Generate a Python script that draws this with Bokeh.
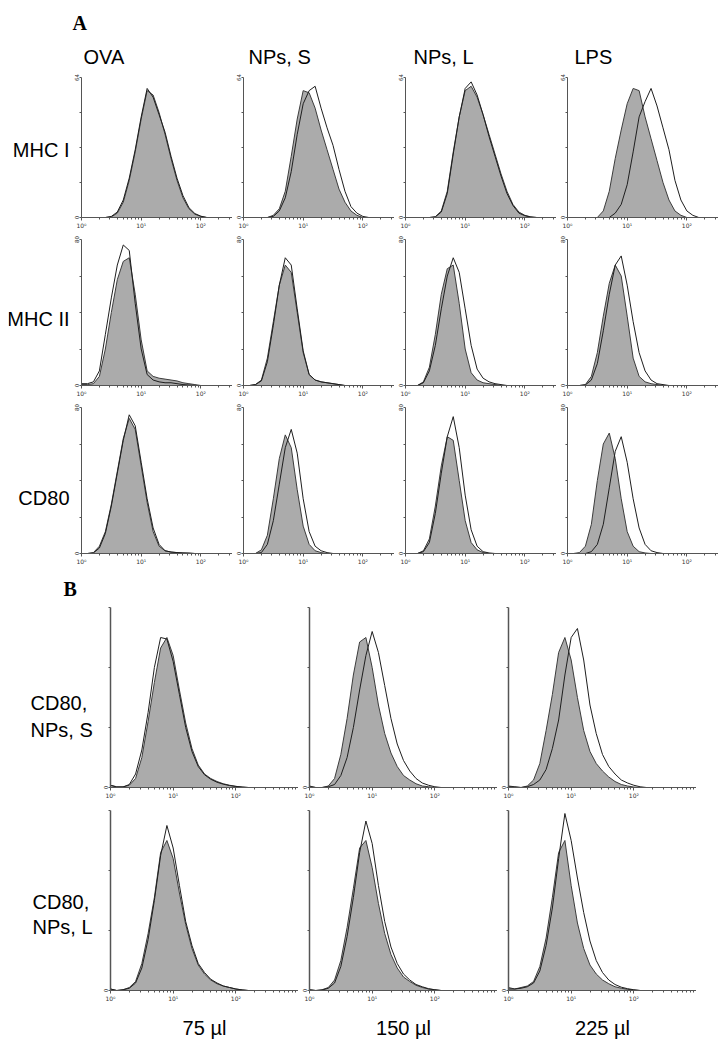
from bokeh.plotting import figure
from bokeh.layouts import column, row
from bokeh.models import Range1d, FixedTicker, Label, Title
from bokeh.embed import file_html
from bokeh.resources import INLINE

# ---------------- data ----------------
# histogram bin centres, in decades (log10 of fluorescence intensity)
BIN_LOG = [0.0, 0.1, 0.2, 0.3, 0.4, 0.5, 0.6, 0.7, 0.8, 0.9, 1.0, 1.1, 1.2,
           1.3, 1.4, 1.5, 1.6, 1.7, 1.8, 1.9, 2.0, 2.1, 2.2, 2.3, 2.4, 2.5]

col_titles_a = ["OVA", "NPs, S", "NPs, L", "LPS"]
row_titles_a = ["MHC I", "MHC II", "CD80"]
ymax_a = [64, 80, 80]
col_titles_b = ["75 µl", "150 µl", "225 µl"]
row_titles_b = [["CD80,", "NPs, S"], ["CD80,", "NPs, L"]]
x_tick_labels = {1: "10⁰", 10: "10¹", 100: "10²"}

# Panel A, MHC I (filled = grey histogram, open = outlined histogram)
mhc1_ova_filled = [0, 0, 0, 0, 0, 0.3, 2, 7, 17, 30, 45, 58, 56, 48, 38, 27, 17, 9, 4, 1.5, 0.5, 0]
mhc1_ova_open = [0, 0, 0, 0, 0, 0.5, 2.5, 8, 18, 31, 46, 59, 55, 47, 39, 28, 18, 10, 4.5, 1.8, 0.6, 0]
mhc1_nps_filled = [0, 0, 0, 0, 0, 1, 4, 12, 28, 45, 58, 57, 50, 40, 31, 22, 13, 7, 3, 1, 0]
mhc1_nps_open = [0, 0, 0, 0, 0, 0.5, 3, 9, 21, 38, 52, 58, 60, 50, 41, 33, 22, 12, 5, 2, 0.5, 0]
mhc1_npl_filled = [0, 0, 0, 0, 0, 0.3, 3, 12, 30, 46, 58, 60, 55, 47, 38, 29, 20, 12, 6, 2.5, 1, 0.3, 0]
mhc1_npl_open = [0, 0, 0, 0, 0, 0.3, 2.5, 11, 29, 46, 59, 62, 56, 47, 37, 28, 19, 11, 5.5, 2, 0.8, 0.2, 0]
mhc1_lps_filled = [0, 0, 0, 0, 0, 0, 3, 12, 27, 40, 52, 59, 58, 46, 36, 26, 16, 8, 3, 1, 0]
mhc1_lps_open = [0, 0, 0, 0, 0, 0, 0, 0, 2, 6, 15, 30, 46, 53, 59, 51, 41, 31, 17, 8, 3, 1, 0]

# Panel A, MHC II
mhc2_ova_filled = [0.5, 0.5, 1, 5, 20, 40, 58, 68, 70, 50, 25, 8, 5, 4, 3.5, 3, 2.5, 1.5, 1, 0.5, 0]
mhc2_ova_open = [1, 1, 2, 8, 28, 48, 66, 77, 74, 45, 20, 6, 3, 2, 1.5, 1.5, 1, 0.5, 0.3, 0]
mhc2_nps_filled = [0, 0, 0.5, 3, 15, 35, 55, 66, 62, 40, 18, 6, 3, 2, 1.5, 1, 0.5, 0]
mhc2_nps_open = [0, 0, 0.5, 2.5, 13, 33, 55, 70, 66, 42, 19, 6, 3, 2, 1.5, 1, 0.5, 0]
mhc2_npl_filled = [0, 0, 0, 2, 10, 28, 50, 64, 66, 45, 20, 7, 3, 1.5, 1, 0.5, 0]
mhc2_npl_open = [0, 0, 0, 1.5, 8, 22, 42, 60, 70, 62, 42, 22, 9, 4, 2, 1, 0.5, 0]
mhc2_lps_filled = [0, 0, 0, 0.5, 5, 18, 38, 56, 66, 60, 38, 15, 5, 2, 1, 0.5, 0]
mhc2_lps_open = [0, 0, 0, 0.3, 3, 12, 30, 50, 66, 71, 55, 35, 18, 8, 3, 1, 0.5, 0]

# Panel A, CD80
cd80_ova_filled = [0, 0, 0.5, 4, 12, 27, 45, 63, 74, 68, 48, 28, 12, 4, 1.5, 0.8, 0.5, 0.3, 0.2, 0]
cd80_ova_open = [0, 0, 0.3, 3, 11, 26, 44, 62, 76, 70, 50, 30, 14, 5, 1.5, 0.8, 0.5, 0.3, 0.2, 0]
cd80_nps_filled = [0, 0, 0, 2, 10, 30, 52, 65, 58, 35, 15, 5, 1.5, 0.5, 0]
cd80_nps_open = [0, 0, 0, 0.5, 5, 18, 38, 58, 68, 55, 30, 12, 4, 1.5, 0.5, 0]
cd80_npl_filled = [0, 0, 0, 1.5, 8, 26, 48, 64, 62, 40, 18, 6, 2, 0.5, 0]
cd80_npl_open = [0, 0, 0, 1, 6, 22, 44, 64, 75, 58, 32, 13, 4, 1, 0.3, 0]
cd80_lps_filled = [0, 0, 0.5, 4, 16, 40, 60, 66, 52, 30, 12, 4, 1, 0.3, 0]
cd80_lps_open = [0, 0, 0, 0, 1, 5, 16, 36, 56, 64, 50, 30, 14, 5, 1.5, 0.5, 0]

# Panel B, CD80 with NPs, S at 75 / 150 / 225 µl
b_s75_filled = [1.5, 0.5, 0.5, 1.5, 6, 20, 44, 70, 93, 100, 88, 65, 43, 26, 15, 9, 6, 4, 2.5, 1.5, 0.8, 0.3, 0]
b_s75_open = [1.5, 0.3, 0.3, 2, 9, 25, 50, 80, 100, 99, 84, 62, 40, 24, 14, 8.5, 5.5, 3.5, 2.2, 1.3, 0.7, 0.3, 0]
b_s150_filled = [1, 0, 0, 1, 6, 22, 46, 75, 97, 100, 80, 55, 36, 23, 14, 8, 5, 2.5, 1, 0.5, 0]
b_s150_open = [0.5, 0, 0, 0.5, 2, 8, 20, 40, 65, 88, 104, 90, 68, 46, 29, 18, 11, 6, 3, 1.5, 0.5, 0]
b_s225_filled = [1, 0.5, 0, 1, 5, 16, 38, 62, 90, 100, 85, 60, 38, 24, 16, 11, 7, 4, 2, 1, 0.3, 0]
b_s225_open = [0.5, 0.3, 0, 0.5, 2, 5, 12, 26, 45, 75, 100, 106, 85, 55, 36, 22, 14, 9, 5, 3, 1.5, 0.5, 0]

# Panel B, CD80 with NPs, L at 75 / 150 / 225 µl
b_l75_filled = [1, 0, 0.5, 2, 6, 18, 38, 62, 92, 100, 88, 65, 44, 28, 17, 11, 7, 4.5, 3, 2, 1, 0.4, 0]
b_l75_open = [1, 0, 0.5, 1.5, 5, 15, 34, 60, 90, 110, 95, 70, 46, 30, 18, 12, 7.5, 5, 3, 2, 1, 0.4, 0]
b_l150_filled = [0.5, 0, 0.5, 2, 7, 20, 42, 68, 95, 100, 82, 58, 38, 24, 15, 9, 6, 3.5, 2, 1, 0.5, 0]
b_l150_open = [0.5, 0, 0.3, 1.5, 5, 16, 36, 62, 92, 113, 98, 70, 46, 29, 18, 11, 7, 4, 2.5, 1.2, 0.5, 0]
b_l225_filled = [2, 1, 2, 3, 6, 16, 35, 62, 92, 100, 70, 45, 28, 17, 11, 7, 4.5, 2.5, 1.5, 0.8, 0.3, 0]
b_l225_open = [1, 1, 1.5, 2.5, 5, 13, 30, 55, 88, 118, 100, 75, 52, 33, 20, 12, 7, 4, 2.2, 1.2, 0.5, 0]

A_DATA = [
    [(mhc1_ova_filled, mhc1_ova_open), (mhc1_nps_filled, mhc1_nps_open),
     (mhc1_npl_filled, mhc1_npl_open), (mhc1_lps_filled, mhc1_lps_open)],
    [(mhc2_ova_filled, mhc2_ova_open), (mhc2_nps_filled, mhc2_nps_open),
     (mhc2_npl_filled, mhc2_npl_open), (mhc2_lps_filled, mhc2_lps_open)],
    [(cd80_ova_filled, cd80_ova_open), (cd80_nps_filled, cd80_nps_open),
     (cd80_npl_filled, cd80_npl_open), (cd80_lps_filled, cd80_lps_open)],
]
B_DATA = [
    [(b_s75_filled, b_s75_open), (b_s150_filled, b_s150_open), (b_s225_filled, b_s225_open)],
    [(b_l75_filled, b_l75_open), (b_l150_filled, b_l150_open), (b_l225_filled, b_l225_open)],
]

# ---------------- style ----------------
GRAY = "#ababab"
AXIS = "#555555"
LABEL_FONT = "Liberation Sans"
TICK_FONT = "DejaVu Sans"
X_MINOR = [m * d for d in (1, 10, 100) for m in range(2, 10)]


def pad(v):
    return list(v) + [0] * (len(BIN_LOG) - len(v))


def style_title(t, txt, align, offset, standoff, font=LABEL_FONT, fstyle="normal", valign="bottom"):
    t.text = txt
    t.align = align
    t.offset = offset
    t.standoff = standoff
    t.vertical_align = valign
    t.text_font = font
    t.text_font_size = "20px"
    t.text_font_style = fstyle
    t.text_color = "black"


def label_fig(w, h, fh, bt, bb, items):
    # y is measured downward from the top of the plotting frame (aligned with the panels)
    p = figure(width=w, height=h, x_range=Range1d(0, w), y_range=Range1d(fh, 0),
               min_border_left=0, min_border_right=0, min_border_top=bt, min_border_bottom=bb,
               toolbar_location=None, output_backend="svg",
               x_axis_location=None, y_axis_location=None)
    p.grid.visible = False
    p.outline_line_color = None
    p.title.visible = False
    for (x, y, txt) in items:
        p.add_layout(Label(x=x, y=y, text=txt, text_font=LABEL_FONT, text_font_size="20px",
                           text_align="left" if x < 40 else "right",
                           text_baseline="alphabetic", text_color="black"))
    return p


def panel(filled, open_, ymax, yticks, w, h, xmax_log, bt, bb, bl, ylabel_keep, y_axis_w):
    p = figure(x_axis_type="log", x_range=Range1d(1, 10 ** xmax_log), y_range=Range1d(0, ymax),
               width=w, height=h, min_border_left=bl, min_border_right=0,
               min_border_top=bt, min_border_bottom=bb, toolbar_location=None,
               output_backend="svg")
    p.outline_line_color = None
    p.grid.visible = False
    xs = [10 ** b for b in BIN_LOG]
    f = pad(filled)
    o = pad(open_)
    p.varea(x=xs, y1=0, y2=f, fill_color=GRAY)
    p.line(xs, f, line_color="#3c3c3c", line_width=1)
    p.line(xs, o, line_color="#1e1e1e", line_width=1)

    xa = p.xaxis[0]
    xa.ticker = FixedTicker(ticks=[1, 10, 100], minor_ticks=X_MINOR)
    xa.major_label_overrides = dict(x_tick_labels)
    xa.axis_line_color = AXIS
    xa.major_tick_line_color = AXIS
    xa.minor_tick_line_color = AXIS
    xa.major_tick_in = 0
    xa.major_tick_out = 3
    xa.minor_tick_in = 0
    xa.minor_tick_out = 2
    xa.major_label_standoff = 1
    xa.major_label_text_font = TICK_FONT
    xa.major_label_text_font_size = "6px"
    xa.major_label_text_color = "#333333"

    ya = p.yaxis[0]
    ya.ticker = FixedTicker(ticks=yticks)
    ya.major_label_overrides = {t: ("" if t not in ylabel_keep else str(t)) for t in yticks}
    ya.major_label_orientation = "vertical"
    ya.axis_line_color = AXIS
    ya.axis_line_width = y_axis_w
    ya.major_tick_line_color = AXIS
    ya.major_tick_in = 0
    ya.major_tick_out = 2
    ya.minor_tick_line_color = None
    ya.major_label_standoff = 1
    ya.major_label_text_font = TICK_FONT
    ya.major_label_text_font_size = "5.5px"
    ya.major_label_text_color = "#333333"
    return p


rows = []

# ---------------- Panel A ----------------
LAB_W_A = 62
HEAD_A = 61
a_frame_h = [140, 146, 146]
a_label_y = [72, 79, 90]
a_title_off = [2, 5, 8, 7]
for r in range(3):
    fh = a_frame_h[r]
    bt, bb = 8, 14
    if r == 0:
        bt += HEAD_A
    ym = ymax_a[r]
    yt = [0, ym // 4, ym // 2, 3 * ym // 4, ym]
    h = bt + fh + bb
    figs = [label_fig(LAB_W_A, h, fh, bt, bb, [(61, a_label_y[r], row_titles_a[r])])]
    for c in range(4):
        fd, od = A_DATA[r][c]
        p = panel(fd, od, ym, yt, 162, h, 2.53, bt, bb, 10, [0, ym], 1)
        if r == 0 and c == 0:
            # outermost title carries the panel letter, inner one the column heading
            style_title(p.title, "A", "left", -9, 2, font="Liberation Serif", fstyle="bold")
            t = Title()
            style_title(t, col_titles_a[c], "left", a_title_off[c], 19)
            p.add_layout(t, "above")
        elif r == 0:
            style_title(p.title, col_titles_a[c], "left", a_title_off[c], 19)
        else:
            p.title.visible = False
        figs.append(p)
    rows.append(row(*figs, spacing=0))

# ---------------- Panel B ----------------
LAB_W_B = 91
HEAD_B = 34
b_frame_h = [180, 184]
b_top = [6 + HEAD_B, 9]
b_bottom = [14, 47]
b_label = [[(22, 95), (22, 122)], [(24, 94), (24, 119)]]
for r in range(2):
    fh = b_frame_h[r]
    bt, bb = b_top[r], b_bottom[r]
    h = bt + fh + bb
    items = [(b_label[r][i][0], b_label[r][i][1], row_titles_b[r][i]) for i in range(2)]
    lf = label_fig(LAB_W_B, h, fh, bt, bb, items)
    if r == 0:
        lf.title.visible = True
        style_title(lf.title, "B", "left", 55, 16, font="Liberation Serif", fstyle="bold")
    figs = [lf]
    for c in range(3):
        fd, od = B_DATA[r][c]
        p = panel(fd, od, 120, [0, 40, 80, 120], 199, h, 3.0, bt, bb, 10, [0], 1.5)
        p.title.visible = False
        if r == 1:
            xa = p.xaxis[0]
            xa.axis_label = col_titles_b[c]
            xa.axis_label_text_font = LABEL_FONT
            xa.axis_label_text_font_size = "20px"
            xa.axis_label_text_font_style = "normal"
            xa.axis_label_text_color = "black"
            xa.axis_label_standoff = 12
        figs.append(p)
    rows.append(row(*figs, spacing=0))

layout = column(*rows, spacing=0, margin=(8, 0, 0, 8))
open("out.html", "w").write(file_html(layout, INLINE))
